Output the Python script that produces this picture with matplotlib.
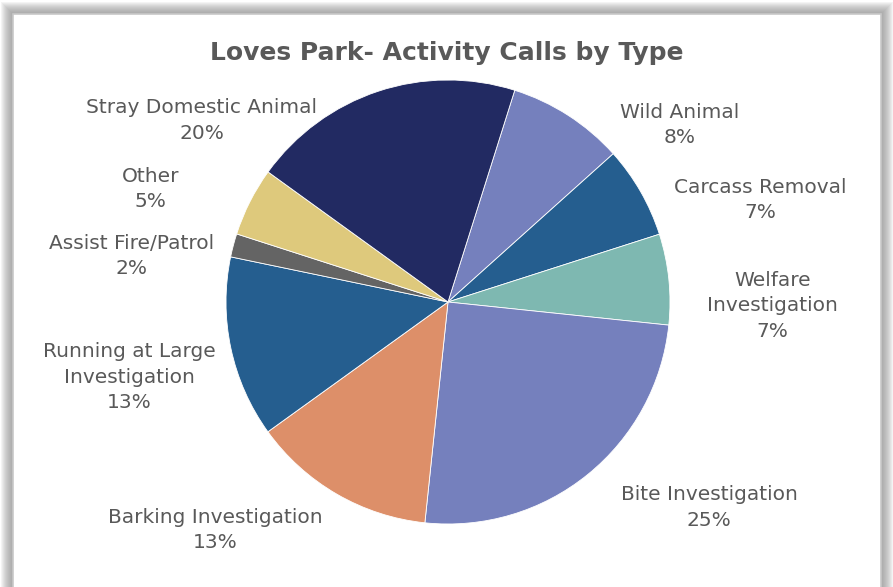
import matplotlib
matplotlib.use("Agg")
import matplotlib.pyplot as plt
from matplotlib.patches import Rectangle

# slice data, clockwise from just right of 12 o'clock
categories = ["Wild Animal", "Carcass Removal", "Welfare\nInvestigation",
              "Bite Investigation", "Barking Investigation",
              "Running at Large\nInvestigation", "Assist Fire/Patrol",
              "Other", "Stray Domestic Animal"]
shares = [8.5, 6.7, 6.6, 25.0, 13.4, 13.2, 1.7, 5.0, 19.9]
colors = ["#7580BD", "#255E8F", "#7EB8B1", "#7580BD", "#DD8F69",
          "#255E8F", "#646464", "#DEC97C", "#222A62"]

# label centres (data units, pie radius = 1)
label_xy = [(1.045, 0.797), (1.405, 0.459), (1.462, -0.018),
            (1.176, -0.926), (-1.050, -1.027), (-1.434, -0.338),
            (-1.425, 0.207), (-1.339, 0.509), (-1.109, 0.816)]

W, H = 893, 587
cx, cy, r = 448, 302, 222
txt = "#595959"

fig = plt.figure(figsize=(W / 100, H / 100), dpi=100)
fig.patch.set_facecolor("white")

# chart frame with a soft grey shadow around it
bg = fig.add_axes([0, 0, 1, 1])
bg.set_xlim(0, W)
bg.set_ylim(H, 0)
bg.axis("off")
x0, y0, x1 = 13, 14, 881
for k in range(12, 0, -1):
    bg.add_patch(Rectangle((x0 - k, y0 - k), x1 - x0 + 2 * k, 700,
                           facecolor="#888888", edgecolor="none", alpha=0.09))
bg.add_patch(Rectangle((x0, y0), x1 - x0, 700, facecolor="white",
                       edgecolor="#c8c8c8", linewidth=1.2))

ax = fig.add_axes([0, 0, 1, 1])
wedges, _ = ax.pie(shares, colors=colors, startangle=72.5, counterclock=False,
                   radius=1, wedgeprops=dict(edgecolor="white", linewidth=0.6))
ax.set_aspect("auto")
ax.set_xlim(-cx / r, (W - cx) / r)
ax.set_ylim(-(H - cy) / r, cy / r)
ax.axis("off")

total = sum(shares)
for name, v, (x, y) in zip(categories, shares, label_xy):
    ax.text(x, y, f"{name}\n{round(v / total * 100)}%", ha="center", va="center",
            fontsize=14.5, color=txt, linespacing=1.45)

fig.text(447 / W, 1 - 53 / H, "Loves Park- Activity Calls by Type", ha="center",
         va="center", fontsize=18, fontweight="bold", color=txt)

fig.savefig("out.png", dpi=100)
